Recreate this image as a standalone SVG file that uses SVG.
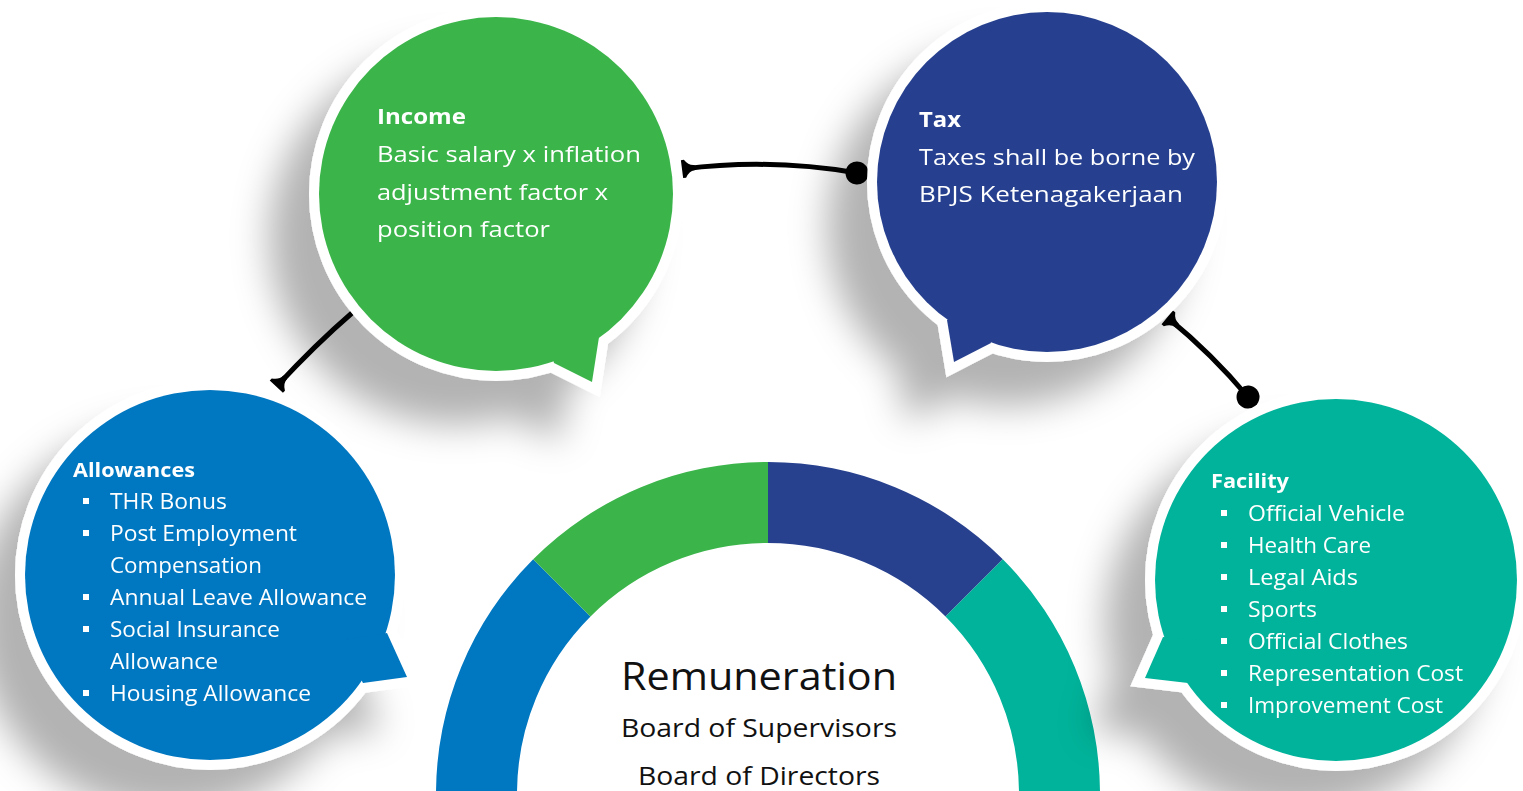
<svg xmlns="http://www.w3.org/2000/svg" width="1523" height="791" viewBox="0 0 1523 791">
<style>
.out{fill:#fff;stroke:#fff;stroke-width:20;stroke-linejoin:miter;stroke-miterlimit:10}
.tw{fill:#fff;font-family:"Open Sans","Noto Sans",sans-serif;font-size:21px;font-weight:400}
.tb{fill:#fff;font-family:"Open Sans","Noto Sans",sans-serif;font-weight:700}
.tc{fill:#111;font-family:"Open Sans","Noto Sans",sans-serif;font-weight:400;text-anchor:middle}
.bul{fill:#fff}
.conn{fill:none;stroke:#000;stroke-width:5}
</style>
<defs>
<filter id="sh" x="-50%" y="-50%" width="200%" height="200%">
<feGaussianBlur in="SourceAlpha" stdDeviation="18"/>
<feOffset dx="-40" dy="44" result="b"/>
<feFlood flood-color="#000" flood-opacity="0.3"/>
<feComposite in2="b" operator="in"/>
<feMerge><feMergeNode/><feMergeNode in="SourceGraphic"/></feMerge>
</filter>
<marker id="tcap" markerUnits="userSpaceOnUse" markerWidth="30" markerHeight="30" refX="0" refY="0" orient="auto-start-reverse" overflow="visible">
<path d="M1,-9 L1,9 L-2,9 Q-6,2.5 -12,2.5 L-12,-2.5 Q-6,-2.5 -2,-9 Z" fill="#000"/>
</marker>
<marker id="dot" markerUnits="userSpaceOnUse" markerWidth="30" markerHeight="30" refX="0" refY="0" orient="auto" overflow="visible">
<circle cx="0" cy="0" r="11.5" fill="#000"/>
</marker>
</defs>
<rect width="1523" height="791" fill="#fff"/>

<g id="remuneration">
<path d="M436,794 A332,332 0 0 1 533.2,559.2 L590.5,616.5 A251,251 0 0 0 517,794 Z" fill="#0077C1"/>
<path d="M533.2,559.2 A332,332 0 0 1 768,462 L768,543 A251,251 0 0 0 590.5,616.5 Z" fill="#3BB54A"/>
<path d="M768,462 A332,332 0 0 1 1002.8,559.2 L945.5,616.5 A251,251 0 0 0 768,543 Z" fill="#27418F"/>
<path d="M1002.8,559.2 A332,332 0 0 1 1100,794 L1019,794 A251,251 0 0 0 945.5,616.5 Z" fill="#00B39A"/>
<text class="tc" x="759" y="690" font-size="39" textLength="276" lengthAdjust="spacingAndGlyphs">Remuneration</text>
<text class="tc" x="759" y="737" font-size="25" textLength="276" lengthAdjust="spacingAndGlyphs">Board of Supervisors</text>
<text class="tc" x="759" y="785" font-size="25" textLength="242" lengthAdjust="spacingAndGlyphs">Board of Directors</text>
</g>

<g id="connectors">
<path class="conn" d="M683,169 Q770,158 857,173" marker-start="url(#tcap)" marker-end="url(#dot)"/>
<path class="conn" d="M352,313 Q316,344 277,386" marker-end="url(#tcap)"/>
<path class="conn" d="M1168,318 Q1212,354 1248,397" marker-start="url(#tcap)" marker-end="url(#dot)"/>
</g>

<g id="income" filter="url(#sh)">
<circle class="out" cx="496" cy="194" r="177"/>
<polygon class="out" points="554,363 592,382 599,337 540,300"/>
<circle cx="496" cy="194" r="177" fill="#3BB54A"/>
<polygon points="554,363 592,382 599,337 540,300" fill="#3BB54A"/>
<text class="tb" x="377" y="124" font-size="22" textLength="89" lengthAdjust="spacingAndGlyphs">Income</text>
<text class="tw" font-size="23" x="377" y="162" textLength="264" lengthAdjust="spacingAndGlyphs">Basic salary x inflation</text>
<text class="tw" font-size="23" x="377" y="200" textLength="231" lengthAdjust="spacingAndGlyphs">adjustment factor x</text>
<text class="tw" font-size="23" x="377" y="237" textLength="173" lengthAdjust="spacingAndGlyphs">position factor</text>
</g>

<g id="tax" filter="url(#sh)">
<circle class="out" cx="1047" cy="182" r="170"/>
<polygon class="out" points="947,320 954,362 991,343 980,300"/>
<circle cx="1047" cy="182" r="170" fill="#27418F"/>
<polygon points="947,320 954,362 991,343 980,300" fill="#27418F"/>
<text class="tb" x="919" y="127" font-size="22" textLength="42" lengthAdjust="spacingAndGlyphs">Tax</text>
<text class="tw" font-size="23" x="919" y="165" textLength="276" lengthAdjust="spacingAndGlyphs">Taxes shall be borne by</text>
<text class="tw" font-size="23" x="919" y="202" textLength="264" lengthAdjust="spacingAndGlyphs">BPJS Ketenagakerjaan</text>
</g>

<g id="allowances" filter="url(#sh)">
<circle class="out" cx="210" cy="575" r="185"/>
<polygon class="out" points="387,633 407,677 363,683 340,640"/>
<circle cx="210" cy="575" r="185" fill="#0077C1"/>
<polygon points="387,633 407,677 363,683 340,640" fill="#0077C1"/>
<text class="tb" x="73" y="477" font-size="19" textLength="122" lengthAdjust="spacingAndGlyphs">Allowances</text>
<rect class="bul" x="83" y="498" width="6" height="6"/>
<rect class="bul" x="83" y="530" width="6" height="6"/>
<rect class="bul" x="83" y="594" width="6" height="6"/>
<rect class="bul" x="83" y="626" width="6" height="6"/>
<rect class="bul" x="83" y="690" width="6" height="6"/>
<text class="tw" x="110" y="509" textLength="117" lengthAdjust="spacingAndGlyphs">THR Bonus</text>
<text class="tw" x="110" y="541" textLength="187" lengthAdjust="spacingAndGlyphs">Post Employment</text>
<text class="tw" x="110" y="573" textLength="152" lengthAdjust="spacingAndGlyphs">Compensation</text>
<text class="tw" x="110" y="605" textLength="257" lengthAdjust="spacingAndGlyphs">Annual Leave Allowance</text>
<text class="tw" x="110" y="637" textLength="170" lengthAdjust="spacingAndGlyphs">Social Insurance</text>
<text class="tw" x="110" y="669" textLength="108" lengthAdjust="spacingAndGlyphs">Allowance</text>
<text class="tw" x="110" y="701" textLength="201" lengthAdjust="spacingAndGlyphs">Housing Allowance</text>
</g>

<g id="facility" filter="url(#sh)">
<circle class="out" cx="1336" cy="580" r="181"/>
<polygon class="out" points="1163,637 1145,678 1188,683 1200,640"/>
<circle cx="1336" cy="580" r="181" fill="#00B39A"/>
<polygon points="1163,637 1145,678 1188,683 1200,640" fill="#00B39A"/>
<text class="tb" x="1211" y="488" font-size="19" textLength="78" lengthAdjust="spacingAndGlyphs">Facility</text>
<rect class="bul" x="1221" y="510" width="6" height="6"/>
<rect class="bul" x="1221" y="542" width="6" height="6"/>
<rect class="bul" x="1221" y="574" width="6" height="6"/>
<rect class="bul" x="1221" y="606" width="6" height="6"/>
<rect class="bul" x="1221" y="638" width="6" height="6"/>
<rect class="bul" x="1221" y="670" width="6" height="6"/>
<rect class="bul" x="1221" y="702" width="6" height="6"/>
<text class="tw" x="1248" y="521" textLength="157" lengthAdjust="spacingAndGlyphs">Official Vehicle</text>
<text class="tw" x="1248" y="553" textLength="123" lengthAdjust="spacingAndGlyphs">Health Care</text>
<text class="tw" x="1248" y="585" textLength="110" lengthAdjust="spacingAndGlyphs">Legal Aids</text>
<text class="tw" x="1248" y="617" textLength="69" lengthAdjust="spacingAndGlyphs">Sports</text>
<text class="tw" x="1248" y="649" textLength="160" lengthAdjust="spacingAndGlyphs">Official Clothes</text>
<text class="tw" x="1248" y="681" textLength="215" lengthAdjust="spacingAndGlyphs">Representation Cost</text>
<text class="tw" x="1248" y="713" textLength="195" lengthAdjust="spacingAndGlyphs">Improvement Cost</text>
</g>
</svg>
